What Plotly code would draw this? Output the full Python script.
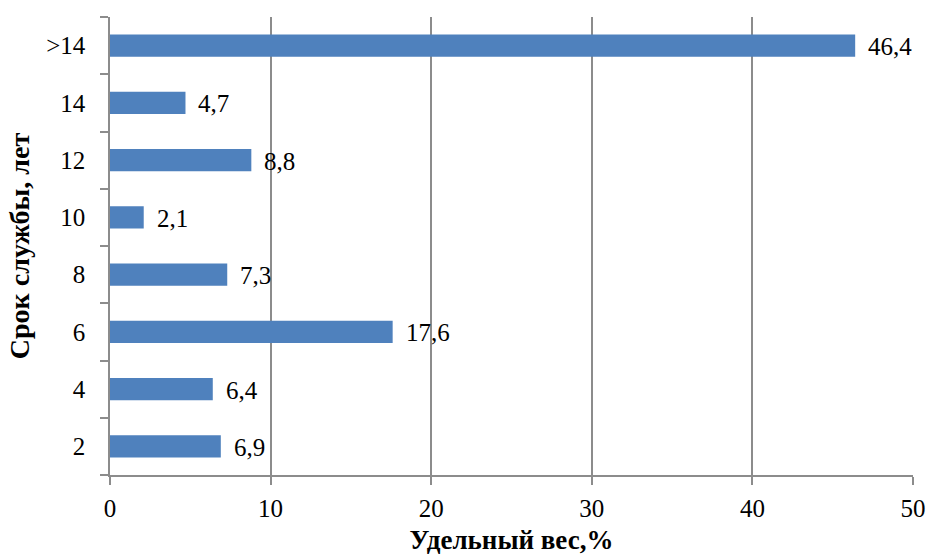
import plotly.graph_objects as go

categories = ["2", "4", "6", "8", "10", "12", "14", ">14"]
values = [6.9, 6.4, 17.6, 7.3, 2.1, 8.8, 4.7, 46.4]
labels = [f"{v:.1f}".replace(".", ",") for v in values]
x_ticks = [0, 10, 20, 30, 40, 50]

FONT = "Liberation Serif"
GRID = "#8c8c8c"

fig = go.Figure(go.Bar(
    x=values, y=categories, orientation="h",
    marker=dict(color="#4F81BD", line=dict(width=0)),
    hoverinfo="x+y",
))

for i, (v, t) in enumerate(zip(values, labels)):
    fig.add_annotation(
        x=v, y=i, text=t, showarrow=False, xanchor="left", yanchor="middle",
        xshift=11, yshift=-1, font=dict(family=FONT, size=25, color="black"),
    )

fig.update_layout(
    width=931, height=555,
    margin=dict(l=110, r=18, t=17, b=80),
    plot_bgcolor="white", paper_bgcolor="white",
    bargap=0.61, showlegend=False,
    font=dict(family=FONT, size=25, color="black"),
)
fig.update_xaxes(
    range=[0, 50], tickvals=x_ticks, ticktext=[str(t) for t in x_ticks],
    showgrid=True, gridcolor=GRID, gridwidth=1.5,
    showline=True, linecolor=GRID, linewidth=1.5,
    ticks="outside", ticklen=8, tickcolor=GRID, tickwidth=1.5,
    zeroline=False, ticklabelstandoff=2,
    title=dict(text="<b>Удельный вес,%</b>", font=dict(family=FONT, size=27), standoff=11),
    automargin=False,
)
fig.update_yaxes(
    type="category", categoryorder="array", categoryarray=categories,
    range=[-0.5, len(categories) - 0.5],
    tickson="boundaries", showgrid=False,
    showline=True, linecolor=GRID, linewidth=1.5,
    ticks="outside", ticklen=8, tickcolor=GRID, tickwidth=1.5,
    ticklabelstandoff=18,
    title=dict(text="<b>Срок службы, лет</b>", font=dict(family=FONT, size=28), standoff=8),
    automargin=False,
)

fig.write_html("out.html")
